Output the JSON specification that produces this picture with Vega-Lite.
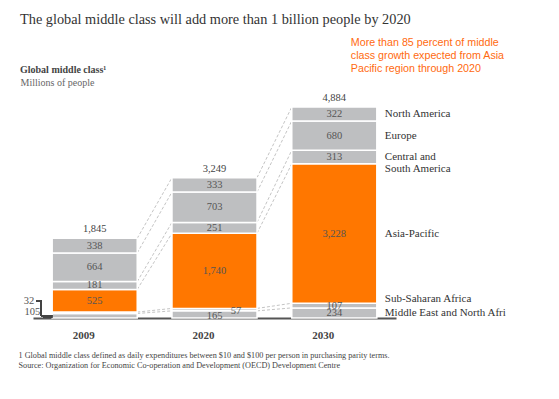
{
  "$schema": "https://vega.github.io/schema/vega-lite/v6.json",
  "autosize": {"type": "none"},
  "width": 363,
  "height": 218,
  "padding": {"left": 33, "top": 100, "right": 163, "bottom": 81},
  "background": "white",
  "config": {"view": {"stroke": null}, "font": "Liberation Serif"},
  "title": {
    "text": "The global middle class will add more than 1 billion people by 2020",
    "subtitle": "Global middle class¹",
    "anchor": "start",
    "frame": "group",
    "dx": -13,
    "dy": 41,
    "font": "Liberation Serif",
    "fontSize": 14.3,
    "fontWeight": "normal",
    "color": "#333333",
    "subtitleFont": "Liberation Serif",
    "subtitleFontSize": 10,
    "subtitleFontWeight": "bold",
    "subtitleColor": "#444444",
    "subtitlePadding": 38,
    "offset": 3
  },
  "data": {
    "values": [
      {"year": "2009", "region": "Middle East and North Africa", "value": 105},
      {"year": "2009", "region": "Sub-Saharan Africa", "value": 32},
      {"year": "2009", "region": "Asia-Pacific", "value": 525},
      {"year": "2009", "region": "Central and\nSouth America", "value": 181},
      {"year": "2009", "region": "Europe", "value": 664},
      {"year": "2009", "region": "North America", "value": 338},
      {"year": "2020", "region": "Middle East and North Africa", "value": 165},
      {"year": "2020", "region": "Sub-Saharan Africa", "value": 57},
      {"year": "2020", "region": "Asia-Pacific", "value": 1740},
      {"year": "2020", "region": "Central and\nSouth America", "value": 251},
      {"year": "2020", "region": "Europe", "value": 703},
      {"year": "2020", "region": "North America", "value": 333},
      {"year": "2030", "region": "Middle East and North Africa", "value": 234},
      {"year": "2030", "region": "Sub-Saharan Africa", "value": 107},
      {"year": "2030", "region": "Asia-Pacific", "value": 3228},
      {"year": "2030", "region": "Central and\nSouth America", "value": 313},
      {"year": "2030", "region": "Europe", "value": 680},
      {"year": "2030", "region": "North America", "value": 322}
    ]
  },
  "transform": [
    {"window": [{"op": "row_number", "as": "rank"}], "groupby": ["year"]},
    {"stack": "value", "groupby": ["year"], "sort": [{"field": "rank", "order": "ascending"}], "as": ["s0", "s1"]},
    {"calculate": "(datum.s0 + datum.s1) / 2", "as": "mid"}
  ],
  "layer": [
    {
      "transform": [
        {"window": [{"op": "lead", "field": "s1", "as": "next_s1"}, {"op": "lead", "field": "year", "as": "next_year"}], "groupby": ["region"], "sort": [{"field": "year", "order": "ascending"}]},
        {"filter": "datum.next_year != null"}
      ],
      "mark": {"type": "rule", "strokeDash": [3, 2], "color": "#c4c4c4", "strokeWidth": 1},
      "encoding": {
        "x": {"field": "year", "type": "nominal", "bandPosition": 1},
        "x2": {"field": "next_year", "bandPosition": 0},
        "y": {"field": "s1", "type": "quantitative", "scale": {"domain": [0, 5046], "nice": false}},
        "y2": {"field": "next_s1"}
      }
    },
    {
      "mark": {"type": "bar", "stroke": "white", "strokeWidth": 1.5},
      "encoding": {
        "x": {
          "field": "year", "type": "nominal",
          "scale": {"paddingInner": 0.29, "paddingOuter": 0.16},
          "title": ["1 Global middle class defined as daily expenditures between $10 and $100 per person in purchasing parity terms.", "Source: Organization for Economic Co-operation and Development (OECD) Development Centre"],
          "axis": {
            "ticks": false, "domainColor": "#555555", "domainWidth": 2,
            "labelFont": "Liberation Serif", "labelFontSize": 11, "labelFontWeight": "bold", "labelColor": "#444444", "labelPadding": 17, "labelAngle": 0,
            "titleFont": "Liberation Serif", "titleFontSize": 8.2, "titleFontWeight": "normal", "titleColor": "#444444",
            "titleAnchor": "start", "titleAlign": "left", "titleX": -15, "titleY": 33, "titleBaseline": "top", "titleLineHeight": 10.5
          }
        },
        "y": {
          "field": "s0", "type": "quantitative",
          "scale": {"domain": [0, 5046], "nice": false},
          "title": "Millions of people",
          "axis": {
            "labels": false, "ticks": false, "domain": false, "grid": false,
            "titleAngle": 0, "titleAlign": "left", "titleBaseline": "middle", "titleX": -13, "titleY": -18,
            "titleFont": "Liberation Serif", "titleFontSize": 10, "titleFontWeight": "normal", "titleColor": "#666666"
          }
        },
        "y2": {"field": "s1"},
        "color": {
          "field": "region", "type": "nominal", "legend": null,
          "scale": {
            "domain": ["Middle East and North Africa", "Sub-Saharan Africa", "Asia-Pacific", "Central and\nSouth America", "Europe", "North America"],
            "range": ["#bebfc1", "#bebfc1", "#ff7700", "#bebfc1", "#bebfc1", "#bebfc1"]
          }
        }
      }
    },
    {
      "transform": [{"filter": "!((datum.year == '2009' || datum.year == '2020') && (datum.region == 'Middle East and North Africa' || datum.region == 'Sub-Saharan Africa'))"}],
      "mark": {"type": "text", "font": "Liberation Serif", "fontSize": 10.5, "color": "#555555", "baseline": "middle"},
      "encoding": {
        "x": {"field": "year", "type": "nominal"},
        "y": {"field": "mid", "type": "quantitative", "scale": {"domain": [0, 5046], "nice": false}},
        "text": {"field": "value", "type": "quantitative", "format": ","}
      }
    },
    {
      "transform": [{"filter": "datum.year == '2020' && datum.region == 'Middle East and North Africa'"}],
      "mark": {"type": "text", "font": "Liberation Serif", "fontSize": 10.5, "color": "#555555", "baseline": "middle", "dy": 2},
      "encoding": {
        "x": {"field": "year", "type": "nominal"},
        "y": {"field": "mid", "type": "quantitative", "scale": {"domain": [0, 5046], "nice": false}},
        "text": {"field": "value", "type": "quantitative", "format": ","}
      }
    },
    {
      "transform": [{"filter": "datum.year == '2020' && datum.region == 'Sub-Saharan Africa'"}],
      "mark": {"type": "text", "font": "Liberation Serif", "fontSize": 10.5, "color": "#555555", "baseline": "middle", "dx": 21.5, "dy": 1.5},
      "encoding": {
        "x": {"field": "year", "type": "nominal"},
        "y": {"field": "mid", "type": "quantitative", "scale": {"domain": [0, 5046], "nice": false}},
        "text": {"field": "value", "type": "quantitative", "format": ","}
      }
    },
    {
      "transform": [{"filter": "datum.year == '2009' && datum.region == 'Sub-Saharan Africa'"}],
      "mark": {"type": "text", "font": "Liberation Serif", "fontSize": 10.5, "color": "#555555", "baseline": "middle", "align": "right", "dx": -18},
      "encoding": {
        "x": {"field": "year", "type": "nominal", "bandPosition": 0},
        "y": {"datum": 400, "type": "quantitative", "scale": {"domain": [0, 5046], "nice": false}},
        "text": {"field": "value", "type": "quantitative", "format": ","}
      }
    },
    {
      "transform": [{"filter": "datum.year == '2009' && datum.region == 'Middle East and North Africa'"}],
      "mark": {"type": "text", "font": "Liberation Serif", "fontSize": 10.5, "color": "#555555", "baseline": "middle", "align": "right", "dx": -12},
      "encoding": {
        "x": {"field": "year", "type": "nominal", "bandPosition": 0},
        "y": {"datum": 132, "type": "quantitative", "scale": {"domain": [0, 5046], "nice": false}},
        "text": {"field": "value", "type": "quantitative", "format": ","}
      }
    },
    {
      "mark": {"type": "rule", "color": "#444444", "strokeWidth": 1, "xOffset": -11},
      "encoding": {
        "x": {"datum": "2009", "type": "nominal", "bandPosition": 0},
        "y": {"datum": 400, "type": "quantitative", "scale": {"domain": [0, 5046], "nice": false}},
        "y2": {"datum": 53}
      }
    },
    {
      "mark": {"type": "rule", "color": "#444444", "strokeWidth": 1, "xOffset": -16, "x2Offset": -11},
      "encoding": {
        "x": {"datum": "2009", "type": "nominal", "bandPosition": 0},
        "x2": {"datum": "2009", "bandPosition": 0},
        "y": {"datum": 400, "type": "quantitative", "scale": {"domain": [0, 5046], "nice": false}}
      }
    },
    {
      "mark": {"type": "rule", "color": "#444444", "strokeWidth": 1, "xOffset": -11, "x2Offset": 0},
      "encoding": {
        "x": {"datum": "2009", "type": "nominal", "bandPosition": 0},
        "x2": {"datum": "2009", "bandPosition": 0},
        "y": {"datum": 53, "type": "quantitative", "scale": {"domain": [0, 5046], "nice": false}}
      }
    },
    {
      "mark": {"type": "rule", "color": "#444444", "strokeWidth": 1, "xOffset": -9, "x2Offset": 0},
      "encoding": {
        "x": {"datum": "2009", "type": "nominal", "bandPosition": 0},
        "x2": {"datum": "2009", "bandPosition": 0},
        "y": {"datum": 23, "type": "quantitative", "scale": {"domain": [0, 5046], "nice": false}}
      }
    },
    {
      "transform": [{"filter": "datum.year == '2030' && datum.region != 'Sub-Saharan Africa'"}],
      "mark": {"type": "text", "align": "left", "dx": 8, "font": "Liberation Serif", "fontSize": 11, "color": "#333333", "baseline": "middle", "lineBreak": "\n", "lineHeight": 12, "limit": 122, "ellipsis": "\u200b"},
      "encoding": {
        "x": {"field": "year", "type": "nominal", "bandPosition": 1},
        "y": {"field": "mid", "type": "quantitative", "scale": {"domain": [0, 5046], "nice": false}},
        "text": {"field": "region", "type": "nominal"}
      }
    },
    {
      "transform": [{"filter": "datum.year == '2030' && datum.region == 'Sub-Saharan Africa'"}],
      "mark": {"type": "text", "align": "left", "dx": 8, "dy": -6.5, "font": "Liberation Serif", "fontSize": 11, "color": "#333333", "baseline": "middle"},
      "encoding": {
        "x": {"field": "year", "type": "nominal", "bandPosition": 1},
        "y": {"field": "mid", "type": "quantitative", "scale": {"domain": [0, 5046], "nice": false}},
        "text": {"field": "region", "type": "nominal"}
      }
    },
    {
      "transform": [{"aggregate": [{"op": "sum", "field": "value", "as": "total"}], "groupby": ["year"]}],
      "mark": {"type": "text", "dy": -9, "baseline": "middle", "font": "Liberation Serif", "fontSize": 10.5, "color": "#444444"},
      "encoding": {
        "x": {"field": "year", "type": "nominal"},
        "y": {"field": "total", "type": "quantitative", "scale": {"domain": [0, 5046], "nice": false}},
        "text": {"field": "total", "type": "quantitative", "format": ","}
      }
    },
    {
      "transform": [{"filter": "datum.year == '2030' && datum.region == 'Asia-Pacific'"}],
      "mark": {"type": "text", "align": "left", "baseline": "top", "font": "Liberation Sans", "fontSize": 10.7, "color": "#ff6a10", "lineHeight": 12.7},
      "encoding": {
        "x": {"datum": "2030", "type": "nominal", "bandPosition": 0.694},
        "y": {"datum": 6470, "type": "quantitative", "scale": {"domain": [0, 5046], "nice": false}},
        "text": {"value": ["More than 85 percent of middle", "class growth expected from Asia", "Pacific region through 2020"]}
      }
    }
  ]
}
